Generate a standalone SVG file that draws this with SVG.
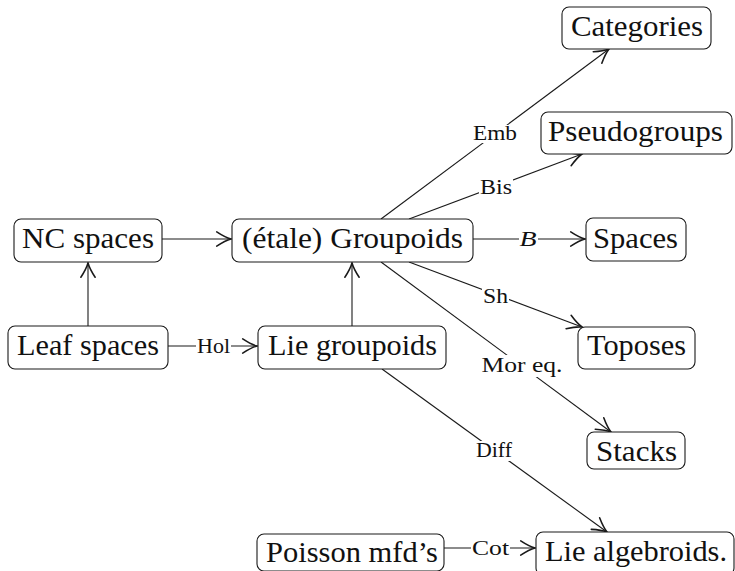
<svg xmlns="http://www.w3.org/2000/svg" width="735" height="571" viewBox="0 0 735 571">
<style>
.box{fill:#fff;stroke:#1a1a1a;stroke-width:1.1}
.t{font-family:"Liberation Serif","Times New Roman",serif;font-size:30px;fill:#111;text-anchor:middle}
.l{font-family:"Liberation Serif","Times New Roman",serif;font-size:20px;fill:#111;text-anchor:middle}
.e{fill:none;stroke:#1a1a1a;stroke-width:1.1;marker-end:url(#ah)}
.lb{fill:#fff;stroke:none}
</style>
<defs>
<marker id="ah" markerUnits="userSpaceOnUse" markerWidth="20" markerHeight="20" viewBox="-12 -7 14 14" refX="0" refY="0" orient="auto">
<path d="M-10,-5 Q-4,-1.1 0,0 Q-4,1.1 -10,5" fill="none" stroke="#1a1a1a" stroke-width="1.1" stroke-linecap="round"/>
</marker>
</defs>
<g id="connectors">
<line class="e" x1="162" y1="239" x2="231" y2="239"/>
<line class="e" x1="88" y1="326" x2="88" y2="263"/>
<line class="e" x1="168" y1="346" x2="257" y2="346"/>
<line class="e" x1="352" y1="326" x2="352" y2="263"/>
<line class="e" x1="381" y1="219" x2="609" y2="49"/>
<line class="e" x1="409" y1="219" x2="582" y2="154"/>
<line class="e" x1="473" y1="239" x2="585" y2="239"/>
<line class="e" x1="409" y1="262" x2="582" y2="327"/>
<line class="e" x1="381" y1="262" x2="611" y2="432"/>
<line class="e" x1="382" y1="369" x2="607" y2="532"/>
<line class="e" x1="444" y1="548" x2="535" y2="548"/>
<rect class="lb" x="196" y="337" width="35" height="19"/>
<text class="l" x="213.5" y="353" textLength="33" lengthAdjust="spacingAndGlyphs">Hol</text>
<rect class="lb" x="472" y="125" width="46" height="18"/>
<text class="l" x="495" y="139.5" textLength="44" lengthAdjust="spacingAndGlyphs">Emb</text>
<rect class="lb" x="479" y="179" width="34" height="18"/>
<text class="l" x="496" y="193.5" textLength="32" lengthAdjust="spacingAndGlyphs">Bis</text>
<rect class="lb" x="519" y="230" width="19" height="18"/>
<text class="l" x="528" y="246" font-style="italic" textLength="17" lengthAdjust="spacingAndGlyphs">B</text>
<rect class="lb" x="482" y="287" width="27" height="19"/>
<text class="l" x="495.5" y="302.5" textLength="25" lengthAdjust="spacingAndGlyphs">Sh</text>
<rect class="lb" x="481" y="355" width="83" height="22"/>
<text class="l" x="522" y="372" textLength="81" lengthAdjust="spacingAndGlyphs">Mor eq.</text>
<rect class="lb" x="475" y="441" width="38" height="20"/>
<text class="l" x="494" y="457" textLength="36" lengthAdjust="spacingAndGlyphs">Diff</text>
<rect class="lb" x="471" y="539" width="39" height="19"/>
<text class="l" x="490.5" y="554.5" textLength="37" lengthAdjust="spacingAndGlyphs">Cot</text>
</g>
<g id="nc-spaces"><rect class="box" x="14" y="219" width="148" height="43" rx="7"/><text class="t" x="88" y="247.5" textLength="132" lengthAdjust="spacingAndGlyphs">NC spaces</text></g>
<g id="groupoids"><rect class="box" x="232" y="219" width="241" height="43" rx="7"/><text class="t" x="352.5" y="247.5" textLength="221" lengthAdjust="spacingAndGlyphs">(étale) Groupoids</text></g>
<g id="leaf-spaces"><rect class="box" x="8" y="326" width="160" height="43" rx="7"/><text class="t" x="88" y="354.5" textLength="142" lengthAdjust="spacingAndGlyphs">Leaf spaces</text></g>
<g id="lie-groupoids"><rect class="box" x="258" y="326" width="188" height="43" rx="7"/><text class="t" x="352.5" y="354.5" textLength="169" lengthAdjust="spacingAndGlyphs">Lie groupoids</text></g>
<g id="categories"><rect class="box" x="562" y="7" width="149" height="42" rx="7"/><text class="t" x="637" y="35.5" textLength="132" lengthAdjust="spacingAndGlyphs">Categories</text></g>
<g id="pseudogroups"><rect class="box" x="541" y="112" width="191" height="42" rx="7"/><text class="t" x="635.5" y="140.5" textLength="175" lengthAdjust="spacingAndGlyphs">Pseudogroups</text></g>
<g id="spaces"><rect class="box" x="586" y="218" width="100" height="43" rx="7"/><text class="t" x="635.5" y="247.5" textLength="85" lengthAdjust="spacingAndGlyphs">Spaces</text></g>
<g id="toposes"><rect class="box" x="578" y="327" width="117" height="42" rx="7"/><text class="t" x="636.5" y="354.5" textLength="99" lengthAdjust="spacingAndGlyphs">Toposes</text></g>
<g id="stacks"><rect class="box" x="587" y="432" width="98" height="37" rx="7"/><text class="t" x="636.5" y="460.5" textLength="81" lengthAdjust="spacingAndGlyphs">Stacks</text></g>
<g id="lie-algebroids"><rect class="box" x="536" y="532" width="198" height="43" rx="7"/><text class="t" x="636" y="560.5" textLength="182" lengthAdjust="spacingAndGlyphs">Lie algebroids.</text></g>
<g id="poisson"><rect class="box" x="257" y="534" width="187" height="37" rx="7"/><text class="t" x="352" y="561.5" textLength="172" lengthAdjust="spacingAndGlyphs">Poisson mfd’s</text></g>
</svg>
